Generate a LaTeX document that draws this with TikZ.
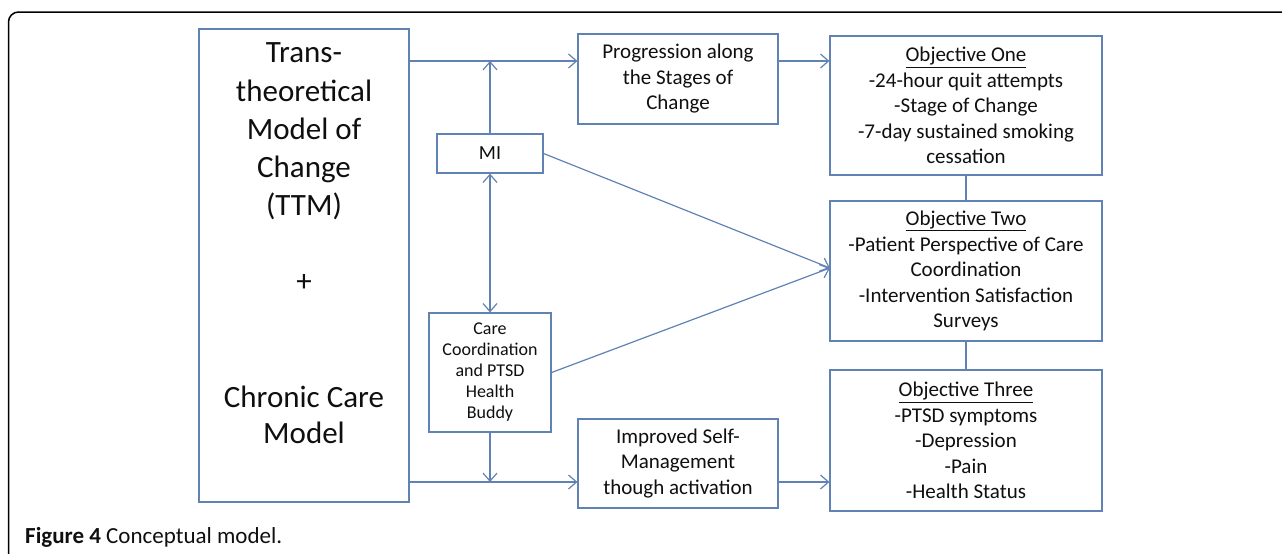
\documentclass[tikz,border=0pt]{standalone}
\usepackage{fontspec}
\setmainfont{Carlito}
\usetikzlibrary{arrows.meta}
\definecolor{ln}{RGB}{96,130,180}
\definecolor{tx}{RGB}{15,15,15}
\begin{document}
\begin{tikzpicture}[x=1pt,y=-1pt,
  box/.style={draw=ln, line width=1.2pt, inner sep=0pt, align=center, text=tx},
  txt/.style={text=tx, align=center, inner sep=0pt},
  conn/.style={draw=ln, line width=1.2pt},
  tip/.tip={Straight Barb[length=8pt,width=14pt,line width=1.2pt]},
  arr/.style={conn, -tip},
  f21/.style={font=\fontsize{21}{25.5}\selectfont},
  f18/.style={font=\fontsize{18}{21}\selectfont}]
\useasboundingbox (0,0) rectangle (1282,554);
\clip (0,0) rectangle (1282,554);
\draw[line width=1.5pt, rounded corners=10pt] (8.5,600) -- (8.5,12) -- (1320,12);

% big model box
\node[box, minimum width=210pt, minimum height=473pt] (ttm) at (304,265.5) {};
\node[txt, font=\fontsize{31}{38.25}\selectfont] (ttmtxt) at (304,131.5) {Trans-\\theoretical\\Model of\\Change\\(TTM)};
\node[txt, font=\fontsize{31}{38}\selectfont] (plus) at (304,283) {+};
\node[txt, font=\fontsize{31}{36}\selectfont] (ccm) at (304,415) {Chronic Care\\Model};

% middle boxes
\node[box, f21, minimum width=200pt, minimum height=90pt] (prog) at (678,79) {Progression along\\the Stages of\\Change};
\node[box, font=\fontsize{20}{24}\selectfont, minimum width=106pt, minimum height=39pt] (mi) at (490,153.5) {MI};
\node[box, f18, minimum width=122pt, minimum height=119pt] (care) at (490,372.5) {Care\\Coordination\\and PTSD\\Health\\Buddy};
\node[box, f21, minimum width=200pt, minimum height=89pt] (imp) at (678,463.5) {Improved Self-\\Management\\though activation};

% objective boxes
\node[box, f21, minimum width=272pt, minimum height=139pt] (obj1) at (966,105.5) {\underline{Objective One}\\-24-hour quit attempts\\-Stage of Change\\-7-day sustained smoking\\cessation};
\node[box, f21, minimum width=272pt, minimum height=140pt] (obj2) at (966,271) {\underline{Objective Two}\\-Patient Perspective of Care\\Coordination\\-Intervention Satisfaction\\Surveys};
\node[box, f21, minimum width=272pt, minimum height=141pt] (obj3) at (966,440.5) {\underline{Objective Three}\\-PTSD symptoms\\-Depression\\-Pain\\-Health Status};

% connectors
\coordinate (top) at (0,61);
\coordinate (bot) at (0,482);
\coordinate (conv) at (830,268);
\draw[arr] (ttm.east |- top) -- (prog.west |- top);
\draw[arr] (mi.north) -- (mi.north |- top);
\draw[arr] (prog.east |- top) -- (obj1.west |- top);
\draw[conn, tip-tip] (mi.south) -- (care.north);
\draw[arr] (mi.east) -- (conv);
\draw[arr] (care.east) -- (conv);
\draw[arr] (care.south) -- (care.south |- bot);
\draw[arr] (ttm.east |- bot) -- (imp.west |- bot);
\draw[arr] (imp.east |- bot) -- (obj3.west |- bot);
\draw[conn] (obj1.south) -- (obj2.north);
\draw[conn] (obj2.south) -- (obj3.north);

% caption
\node[txt, anchor=west, font=\fontsize{23}{27}\selectfont] (cap) at (25,537) {\textbf{Figure 4} Conceptual model.};
\end{tikzpicture}
\end{document}
